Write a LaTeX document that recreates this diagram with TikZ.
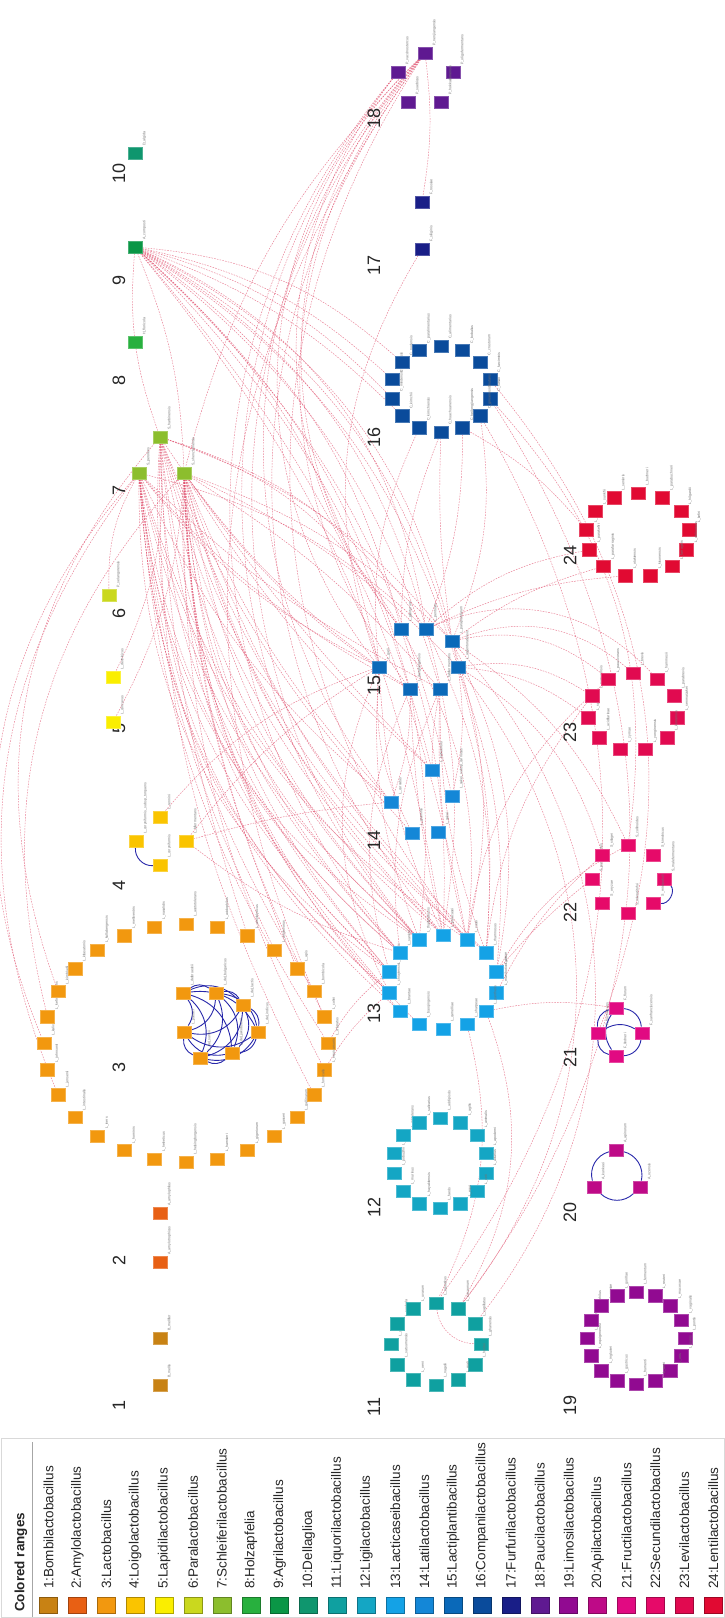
\documentclass[tikz,border=0pt]{standalone}
\usepackage{fontspec}
\setmainfont{Liberation Sans}
\usetikzlibrary{calc}
\definecolor{c1}{RGB}{200,130,20}
\definecolor{c2}{RGB}{232,96,20}
\definecolor{c3}{RGB}{242,152,15}
\definecolor{c4}{RGB}{250,196,0}
\definecolor{c5}{RGB}{250,238,0}
\definecolor{c6}{RGB}{202,216,30}
\definecolor{c7}{RGB}{140,190,45}
\definecolor{c8}{RGB}{40,176,62}
\definecolor{c9}{RGB}{10,150,70}
\definecolor{c10}{RGB}{15,150,110}
\definecolor{c11}{RGB}{15,160,160}
\definecolor{c12}{RGB}{20,166,196}
\definecolor{c13}{RGB}{20,162,230}
\definecolor{c14}{RGB}{20,135,215}
\definecolor{c15}{RGB}{10,105,185}
\definecolor{c16}{RGB}{10,75,155}
\definecolor{c17}{RGB}{25,30,135}
\definecolor{c18}{RGB}{95,25,145}
\definecolor{c19}{RGB}{145,10,145}
\definecolor{c20}{RGB}{190,10,135}
\definecolor{c21}{RGB}{225,10,130}
\definecolor{c22}{RGB}{230,10,105}
\definecolor{c23}{RGB}{225,10,80}
\definecolor{c24}{RGB}{225,10,50}
\definecolor{edgered}{RGB}{225,80,110}
\definecolor{edgeblue}{RGB}{40,40,170}
\pgfdeclarelayer{back}
\pgfdeclarelayer{edges}
\pgfsetlayers{back,edges,main}
\tikzset{
  sq/.style={rectangle, fill=#1, draw=#1!75!white, line width=0.4pt,
    minimum width=14pt, minimum height=12.5pt, inner sep=0pt},
  lbl/.style={rotate=90, anchor=north west, inner sep=0.4pt,
    font=\fontsize{3.6}{4}\selectfont, text=black!55},
  gnum/.style={rotate=90, font=\fontsize{18}{20}\selectfont, text=black!85, inner sep=0pt},
  legsq/.style={rectangle, minimum width=18pt, minimum height=16pt, inner sep=0pt, line width=0.5pt},
  legtxt/.style={rotate=90, anchor=west, inner sep=0pt,
    font=\fontsize{13.5}{15}\selectfont, text=black!85},
  redge/.style={draw=edgered, line width=0.45pt, dash pattern=on 1.6pt off 1.2pt, opacity=0.75},
  bedge/.style={draw=edgeblue, line width=0.9pt}
}
\newcommand{\lb}[2]{\node[lbl] at (#1.north east) {#2};}
% #1 prefix #2 colour #3 cx #4 cy #5 rx #6 ry #7 N #8 genus letter #9 species
\newcommand{\ringg}[9]{%
  \foreach \lab [count=\i] in {#9} {
    \pgfmathsetmacro{\ang}{-90+(\i-1)*360/#7}
    \pgfmathsetmacro{\px}{#3+#5*cos(\ang)}
    \pgfmathsetmacro{\py}{#4+#6*sin(\ang)}
    \node[sq=#2] (#1\i) at (\px,\py) {};
    \node[lbl] at (#1\i.north east) {#8\_\lab};
  }}
\begin{document}
\begin{tikzpicture}[x=1pt,y=-1pt]
\begin{pgfonlayer}{back}
\fill[white] (0,0) rectangle (725,1618);
\end{pgfonlayer}
\useasboundingbox (0,0) rectangle (725,1618);

% ---------------- group numbers
\node[gnum] (n1) at (119,1405) {1};
\node[gnum] (n2) at (119,1260) {2};
\node[gnum] (n3) at (119,1067) {3};
\node[gnum] (n4) at (119,885) {4};
\node[gnum] (n5) at (119,728) {5};
\node[gnum] (n6) at (119,613) {6};
\node[gnum] (n7) at (119,490) {7};
\node[gnum] (n8) at (119,380) {8};
\node[gnum] (n9) at (119,280) {9};
\node[gnum] (n10) at (119,173) {10};
\node[gnum] (n11) at (374,1407) {11};
\node[gnum] (n12) at (374,1207) {12};
\node[gnum] (n13) at (374,1013) {13};
\node[gnum] (n14) at (374,840) {14};
\node[gnum] (n15) at (374,685) {15};
\node[gnum] (n16) at (374,437) {16};
\node[gnum] (n17) at (374,265) {17};
\node[gnum] (n18) at (374,118) {18};
\node[gnum] (n19) at (570,1405) {19};
\node[gnum] (n20) at (570,1212) {20};
\node[gnum] (n21) at (570,1057) {21};
\node[gnum] (n22) at (570,912) {22};
\node[gnum] (n23) at (570,732) {23};
\node[gnum] (n24) at (570,555) {24};

% ---------------- single / small groups
\node[sq=c1] (g1a) at (160,1338) {}; \lb{g1a}{B\_mellifer}
\node[sq=c1] (g1b) at (160,1385) {}; \lb{g1b}{B\_mellis}
\node[sq=c2] (g2a) at (160,1213) {}; \lb{g2a}{A\_amylophilus}
\node[sq=c2] (g2b) at (160,1262) {}; \lb{g2b}{A\_amylotrophicus}
\node[sq=c4] (g4a) at (160,817) {}; \lb{g4a}{L\_rennini}
\node[sq=c4] (g4b) at (136,841) {}; \lb{g4b}{L\_coryniformis\_subsp\_torquens}
\node[sq=c4] (g4c) at (186,841) {}; \lb{g4c}{L\_bifermentans}
\node[sq=c4] (g4d) at (160,865) {}; \lb{g4d}{L\_coryniformis}
\node[sq=c5] (g5a) at (113,677) {}; \lb{g5a}{L\_dextrinicus}
\node[sq=c5] (g5b) at (113,722) {}; \lb{g5b}{L\_concavus}
\node[sq=c6] (g6a) at (109,595) {}; \lb{g6a}{P\_selangorensis}
\node[sq=c7] (g7a) at (139,473) {}; \lb{g7a}{S\_perolens}
\node[sq=c7] (g7b) at (160,437) {}; \lb{g7b}{S\_harbinensis}
\node[sq=c7] (g7c) at (184,473) {}; \lb{g7c}{S\_shenzhenensis}
\node[sq=c8] (g8) at (135,342) {}; \lb{g8}{H\_floricola}
\node[sq=c9] (g9) at (135,247) {}; \lb{g9}{A\_composti}
\node[sq=c10] (g10) at (135,153) {}; \lb{g10}{D\_algida}
\node[sq=c17] (g17a) at (422,202) {}; \lb{g17a}{F\_rossiae}
\node[sq=c17] (g17b) at (422,249) {}; \lb{g17b}{F\_siliginis}
\node[sq=c18] (g18a) at (425,53) {}; \lb{g18a}{P\_nenjiangensis}
\node[sq=c18] (g18b) at (398,72) {}; \lb{g18b}{P\_vaccinostercus}
\node[sq=c18] (g18c) at (453,72) {}; \lb{g18c}{P\_oligofermentans}
\node[sq=c18] (g18d) at (408,102) {}; \lb{g18d}{P\_suebicus}
\node[sq=c18] (g18e) at (441,102) {}; \lb{g18e}{P\_hokkaidonensis}
\node[sq=c15] (g15a) at (379,667) {}; \lb{g15a}{L\_garii}
\node[sq=c15] (g15b) at (401,629) {}; \lb{g15b}{L\_plantarum}
\node[sq=c15] (g15c) at (426,629) {}; \lb{g15c}{L\_pentosus}
\node[sq=c15] (g15d) at (452,641) {}; \lb{g15d}{L\_paraplantarum}
\node[sq=c15] (g15e) at (458,667) {}; \lb{g15e}{L\_argentoratensis}
\node[sq=c15] (g15f) at (440,689) {}; \lb{g15f}{L\_fabifermentans}
\node[sq=c15] (g15g) at (410,689) {}; \lb{g15g}{L\_xiangfangensis}
\node[sq=c14] (g14a) at (432,770) {}; \lb{g14a}{L\_fuchuensis}
\node[sq=c14] (g14b) at (452,796) {}; \lb{g14b}{L\_sakei\_subsp\_carnosus}
\node[sq=c14] (g14c) at (438,832) {}; \lb{g14c}{L\_sakei}
\node[sq=c14] (g14d) at (412,833) {}; \lb{g14d}{L\_graminis}
\node[sq=c14] (g14e) at (391,802) {}; \lb{g14e}{L\_curvatus}
\node[sq=c21] (g21a) at (616,1008) {}; \lb{g21a}{F\_florum}
\node[sq=c21] (g21b) at (598,1033) {}; \lb{g21b}{F\_fructivorans}
\node[sq=c21] (g21c) at (642,1033) {}; \lb{g21c}{F\_sanfranciscensis}
\node[sq=c21] (g21d) at (616,1056) {}; \lb{g21d}{F\_lindneri}
\node[sq=c20] (g20a) at (616,1150) {}; \lb{g20a}{A\_apinorum}
\node[sq=c20] (g20b) at (594,1187) {}; \lb{g20b}{A\_kunkeei}
\node[sq=c20] (g20c) at (640,1187) {}; \lb{g20c}{A\_ozensis}
% ring 3 inner cluster
\node[sq=c3] (g3i1) at (183,993) {}; \lb{g3i1}{L\_delbrueckii}
\node[sq=c3] (g3i2) at (216,993) {}; \lb{g3i2}{L\_del\_bulgaricus}
\node[sq=c3] (g3i3) at (243,1005) {}; \lb{g3i3}{L\_del\_lactis}
\node[sq=c3] (g3i4) at (258,1032) {}; \lb{g3i4}{L\_del\_indicus}
\node[sq=c3] (g3i5) at (232,1053) {}; \lb{g3i5}{L\_del\_jakobsenii}
\node[sq=c3] (g3i6) at (200,1058) {}; \lb{g3i6}{L\_del\_sunkii}
\node[sq=c3] (g3i7) at (184,1032) {}; \lb{g3i7}{L\_psittaci}

% ---------------- rings
\ringg{g3o}{c3}{186}{1043}{142}{119}{28}{L}{acetotolerans,acidophilus,amylolyticus,amylovorus,apis,bombicola,colini,crispatus,equicursoris,fornicalis,gallinarum,gasseri,gigeriorum,hamsteri,helsingborgensis,helveticus,hominis,iners,intestinalis,jensenii,johnsonii,kalixensis,kefiranofaciens,kimbladii,kitasatonis,kullabergensis,melliventris,nasalidis}
\ringg{g11n}{c11}{436}{1344}{45}{41}{12}{L}{aquaticus,cacaonum,capillatus,ghanensis,hordei,mali,nagelii,oeni,satsumensis,sicerae,sucicola,uvarum}
\ringg{g12n}{c12}{440}{1163}{47}{45}{14}{L}{acidipiscis,agilis,animalis,apodemi,aviarius,ceti,equi,faecis,hayakitensis,murinus,pobuzihii,ruminis,salitolerans,salivarius}
\ringg{g13n}{c13}{443}{982}{55}{47}{14}{L}{paracasei,casei,rhamnosus,zeae,manihotivorans,pantheris,sharpeae,camelliae,baoqingensis,brantae,chiayiensis,jixianensis,saniviri,thailandensis}
\ringg{g16n}{c16}{441}{389}{50}{43}{14}{C}{alimentarius,bobalius,crustorum,farciminis,futsaii,ginsenosidimutans,heilongjiangensis,huachuanensis,kimchiensis,kimchii,mindensis,nantensis,nodensis,paralimentarius}
\ringg{g19n}{c19}{636}{1338}{49}{46}{16}{L}{fermentum,reuteri,mucosae,vaginalis,pontis,panis,oris,antri,frumenti,gastricus,ingluviei,equigenerosi,coleohominis,secaliphilus,caviae,gorillae}
\ringg{g22n}{c22}{628}{879}{36}{34}{8}{S}{collinoides,kimchicus,malefermentans,mixtipabuli,odoratitofui,oryzae,paracollinoides,silagei}
\ringg{g23n}{c23}{633}{712}{45}{39}{11}{L}{brevis,hammesii,parabrevis,senmaizukei,koreensis,yonginensis,zymae,acidifarinae,spicheri,namurensis,paucivorans}
\ringg{g24n}{c24}{638}{535}{52}{42}{13}{L}{buchneri,parabuchneri,hilgardii,kefiri,diolivorans,farraginis,kisonensis,otakiensis,parafarraginis,parakefiri,rapi,sunkfii,senioris}

% ---------------- edges
\begin{pgfonlayer}{edges}
\foreach \s/\t/\b in {
 g7a/g13n10/22, g7a/g13n11/22, g7a/g13n12/20, g7a/g13n13/20, g7a/g13n14/18, g7a/g13n1/16,
 g7b/g13n12/18, g7b/g13n13/18, g7b/g13n14/16, g7b/g13n1/15, g7b/g13n2/14, g7b/g13n3/12,
 g7c/g13n9/22, g7c/g13n10/20, g7c/g13n11/20, g7c/g13n12/18, g7c/g13n13/18, g7c/g13n14/16, g7c/g13n1/14, g7c/g13n2/12,
 g7a/g13n12/27, g7a/g13n14/25, g7b/g13n11/26, g7b/g13n13/24, g7c/g13n12/25, g7c/g13n14/23, g7c/g13n3/18, g7a/g13n2/20,
 g7a/g3o4/10, g7a/g3o6/12, g7a/g3o8/14, g7c/g3o5/10, g7c/g3o7/12, g7c/g3o9/14, g7b/g3o3/8, g7b/g3o10/14,
 g7a/g15a/12, g7a/g15g/10, g7c/g15a/8, g7c/g15g/10, g7a/g15f/8,
 g7a/g14e/12, g7c/g14a/8, g7c/g14e/10, g7b/g14a/5, g7b/g14d/10,
 g7b/g3o24/30, g7a/g3o22/32, g7a/g3o20/30, g7c/g3o23/28,
 g5a/g7b/15, g5b/g7c/12, g9/g7b/12,
 g18a/g15b/40, g18a/g15a/42, g18a/g15g/38, g18a/g13n1/38, g18a/g13n14/40, g18a/g13n2/36,
 g18a/g14e/40, g18a/g3o7/30, g18b/g15b/38, g18b/g13n14/40, g18a/g7c/15, g18b/g13n13/40,
 g17b/g15a/25,
 g15a/g13n1/10, g15a/g13n14/12, g15f/g13n2/8, g15f/g13n3/10, g15f/g13n13/15, g15g/g13n12/20, g15a/g13n11/25, g15g/g13n1/5,
 g15f/g14a/5, g15a/g14d/15,
 g16n8/g15b/10, g16n9/g15a/15, g16n8/g15d/5,
 g11n1/g11n4/40, g4c/g13n13/10,
 g24n10/g15c/15, g24n11/g16n7/10, g22n8/g15e/20, g22n1/g15d/15}
 {\draw[redge] (\s) to[bend right=\b] (\t);}
\foreach \s/\t/\b in {
 g7b/g15b/20, g7b/g15c/18, g7b/g15d/15, g7c/g15f/8, g7c/g15e/10, g7c/g15d/12, g7a/g15c/14,
 g6a/g7a/15,
 g9/g15a/18, g9/g15b/20, g9/g15c/22, g9/g15d/22, g9/g15e/20, g9/g15f/18, g9/g15g/16,
 g9/g16n11/15, g9/g16n12/15, g9/g16n10/12, g9/g13n1/15, g9/g13n2/15, g9/g14a/15, g9/g14b/17, g9/g7c/10,
 g9/g16n13/18, g9/g15c/28, g9/g15e/26,
 g18a/g17a/8,
 g15b/g13n1/10, g15g/g13n14/8, g15e/g13n3/10, g15e/g13n4/12, g15d/g13n2/15, g15c/g13n1/12,
 g15b/g13n2/18, g15c/g13n3/15, g15d/g13n4/18,
 g15g/g14e/10, g15e/g14b/10,
 g16n7/g15c/10, g16n6/g15d/15,
 g15d/g23n1/30, g15d/g23n11/25, g15e/g23n10/20, g15c/g23n2/35, g15e/g23n9/15, g15d/g24n9/10, g15c/g24n8/10,
 g13n5/g22n8/10, g13n4/g22n1/15, g13n3/g23n10/15, g13n6/g21a/10, g13n4/g22n7/5, g13n2/g23n11/20,
 g16n5/g11n2/35, g16n6/g11n1/33, g15e/g11n2/38, g15d/g11n3/40, g13n6/g11n2/25, g13n7/g11n1/20,
 g4c/g15a/10, g4c/g14e/5, g4a/g15a/15,
 g16n5/g22n1/25, g16n4/g21b/30,
 g3o8/g13n12/10, g3o9/g13n11/8}
 {\draw[redge] (\s) to[bend left=\b] (\t);}
% blue edges
\foreach \a in {1,...,6} {
  \pgfmathtruncatemacro{\sa}{\a+1}
  \foreach \b in {\sa,...,7} {\draw[bedge] (g3i\a) to[bend left=35] (g3i\b);}
}
\draw[bedge] (g4b) to[bend right=50] (g4d);
\draw[bedge] (g20b) to[bend left=45] (g20a);
\draw[bedge] (g20a) to[bend left=45] (g20c);
\draw[bedge] (g20c) to[bend left=45] (g20b);
\draw[bedge] (g21a) to[bend left=40] (g21c);
\draw[bedge] (g21c) to[bend left=40] (g21d);
\draw[bedge] (g21d) to[bend left=40] (g21b);
\draw[bedge] (g21b) to[bend left=40] (g21a);
\draw[bedge] (g21a) to[bend right=35] (g21d);
\draw[bedge] (g21b) to[bend left=30] (g21c);
\draw[bedge] (g22n3) to[bend left=70] (g22n4);
\end{pgfonlayer}

% ---------------- legend
\draw[black!15, line width=0.6pt] (1,1438) rectangle (724,1617);
\draw[black!35, line width=0.6pt] (32,1442) -- (32,1617);
\node[rotate=90, anchor=west, inner sep=0pt, font=\fontsize{13.5}{15}\selectfont\bfseries, text=black!85] (legtitle) at (21,1612) {Colored ranges};
\foreach \nm [count=\i] in {Bombilactobacillus,Amylolactobacillus,Lactobacillus,Loigolactobacillus,Lapidilactobacillus,Paralactobacillus,Schleiferilactobacillus,Holzapfelia,Agrilactobacillus,Dellaglioa,Liquorilactobacillus,Ligilactobacillus,Lacticaseibacillus,Latilactobacillus,Lactiplantibacillus,Companilactobacillus,Furfurilactobacillus,Paucilactobacillus,Limosilactobacillus,Apilactobacillus,Fructilactobacillus,Secundilactobacillus,Levilactobacillus,Lentilactobacillus} {
  \pgfmathsetmacro{\lx}{48.5+(\i-1)*28.9}
  \node[legsq, fill=c\i, draw=c\i!70!black] (leg\i) at (\lx,1605) {};
  \node[legtxt] (legt\i) at (\lx,1589) {\i:\nm};
}
\end{tikzpicture}
\end{document}
